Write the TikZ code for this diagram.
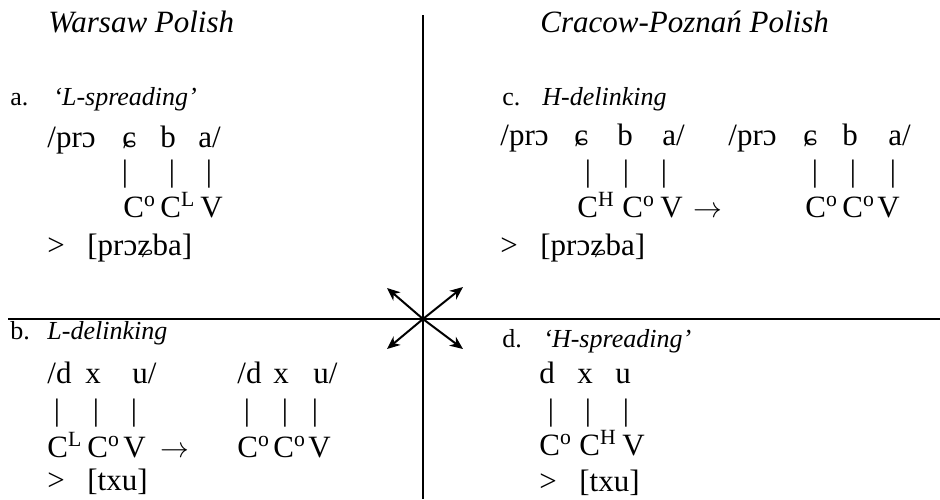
\documentclass[tikz,border=0pt]{standalone}
\usepackage{fontspec}
\setmainfont{Liberation Serif}
\usetikzlibrary{arrows.meta}
\begin{document}
\begin{tikzpicture}[
    x=0.5pt, y=-0.5pt,
    txt/.style={anchor=base west, inner sep=0pt, font=\fontsize{15.5}{18}\selectfont},
    ttl/.style={anchor=base west, inner sep=0pt, font=\fontsize{15.5}{18}\selectfont\itshape},
    num/.style={anchor=base west, inner sep=0pt, font=\fontsize{13}{15}\selectfont},
    lbl/.style={anchor=base west, inner sep=0pt, font=\fontsize{13}{15}\selectfont\itshape},
    bar/.style={anchor=base, inner sep=0pt, font=\fontsize{15.5}{18}\selectfont},
    rule/.style={line width=1pt},
    arrow/.style={->, >={Stealth[length=6.5pt, width=5.5pt, inset=2pt]}, line width=1pt}
]
    \useasboundingbox (0,0) rectangle (940,499);

    % frame
    \coordinate (top) at (423,15);
    \coordinate (bottom) at (423,499);
    \coordinate (left) at (8,319);
    \coordinate (right) at (940,319);
    \coordinate (mid) at (423,319);
    \draw[rule] (top) -- (bottom);
    \draw[rule] (left) -- (right);

    \coordinate (nw) at (387,288);
    \coordinate (ne) at (463,287);
    \coordinate (sw) at (387,349);
    \coordinate (se) at (463,349);
    \draw[arrow] (mid) -- (nw);
    \draw[arrow] (mid) -- (ne);
    \draw[arrow] (mid) -- (sw);
    \draw[arrow] (mid) -- (se);

    \node[ttl] (warsaw) at (48,32) {Warsaw Polish};
    \node[ttl] (cracow) at (540,32) {Cracow-Poznań Polish};

    % a.
    \node[num] (labA) at (10,105) {a.};
    \node[lbl] (nameA) at (53,105) {‘L-spreading’};
    \node[txt] (aSeg1) at (47,147) {/prɔ};
    \node[txt] (aSeg2) at (122,147) {ɕ};
    \node[txt] (aSeg3) at (160,147) {b};
    \node[txt] (aSeg4) at (198,147) {a/};
    \node[bar] (aBar1) at (125,181) {|};
    \node[bar] (aBar2) at (172,181) {|};
    \node[bar] (aBar3) at (209,181) {|};
    \node[txt] (aSlot1) at (123,217) {C\textsuperscript{o}};
    \node[txt] (aSlot2) at (160,217) {C\textsuperscript{L}};
    \node[txt] (aSlot3) at (200,217) {V};
    \node[txt] (aOut1) at (47,255) {>};
    \node[txt] (aOut2) at (87,255) {[prɔʑba]};

    % c.
    \node[num] (labC) at (502,105) {c.};
    \node[lbl] (nameC) at (542,105) {H-delinking};
    \node[txt] (cSeg1) at (500,145) {/prɔ};
    \node[txt] (cSeg2) at (574,145) {ɕ};
    \node[txt] (cSeg3) at (617,145) {b};
    \node[txt] (cSeg4) at (662,145) {a/};
    \node[txt] (cSeg5) at (728,145) {/prɔ};
    \node[txt] (cSeg6) at (803,145) {ɕ};
    \node[txt] (cSeg7) at (842,145) {b};
    \node[txt] (cSeg8) at (888,145) {a/};
    \node[bar] (cBar1) at (588,181) {|};
    \node[bar] (cBar2) at (626,181) {|};
    \node[bar] (cBar3) at (664,181) {|};
    \node[bar] (cBar4) at (815,181) {|};
    \node[bar] (cBar5) at (853,181) {|};
    \node[bar] (cBar6) at (893,181) {|};
    \node[txt] (cSlot1) at (577,217) {C\textsuperscript{H}};
    \node[txt] (cSlot2) at (622,217) {C\textsuperscript{o}};
    \node[txt] (cSlot3) at (660,217) {V};
    \node[txt] (cTo) at (693,217) {$\rightarrow$};
    \node[txt] (cSlot4) at (805,217) {C\textsuperscript{o}};
    \node[txt] (cSlot5) at (842,217) {C\textsuperscript{o}};
    \node[txt] (cSlot6) at (877,217) {V};
    \node[txt] (cOut1) at (500,255) {>};
    \node[txt] (cOut2) at (540,255) {[prɔʑba]};

    % b.
    \node[num] (labB) at (10,339) {b.};
    \node[lbl] (nameB) at (47,339) {L-delinking};
    \node[txt] (bSeg1) at (47,383) {/d};
    \node[txt] (bSeg2) at (85,383) {x};
    \node[txt] (bSeg3) at (132,383) {u/};
    \node[txt] (bSeg4) at (237,383) {/d};
    \node[txt] (bSeg5) at (273,383) {x};
    \node[txt] (bSeg6) at (313,383) {u/};
    \node[bar] (bBar1) at (57,420) {|};
    \node[bar] (bBar2) at (96,420) {|};
    \node[bar] (bBar3) at (134,420) {|};
    \node[bar] (bBar4) at (247,420) {|};
    \node[bar] (bBar5) at (285,420) {|};
    \node[bar] (bBar6) at (315,420) {|};
    \node[txt] (bSlot1) at (47,457) {C\textsuperscript{L}};
    \node[txt] (bSlot2) at (87,457) {C\textsuperscript{o}};
    \node[txt] (bSlot3) at (123,457) {V};
    \node[txt] (bTo) at (160,457) {$\rightarrow$};
    \node[txt] (bSlot4) at (237,457) {C\textsuperscript{o}};
    \node[txt] (bSlot5) at (273,457) {C\textsuperscript{o}};
    \node[txt] (bSlot6) at (308,457) {V};
    \node[txt] (bOut1) at (47,490) {>};
    \node[txt] (bOut2) at (87,490) {[txu]};

    % d.
    \node[num] (labD) at (502,347) {d.};
    \node[lbl] (nameD) at (543,347) {‘H-spreading’};
    \node[txt] (dSeg1) at (539,383) {d};
    \node[txt] (dSeg2) at (577,383) {x};
    \node[txt] (dSeg3) at (615,383) {u};
    \node[bar] (dBar1) at (551,420) {|};
    \node[bar] (dBar2) at (588,420) {|};
    \node[bar] (dBar3) at (626,420) {|};
    \node[txt] (dSlot1) at (539,455) {C\textsuperscript{o}};
    \node[txt] (dSlot2) at (579,455) {C\textsuperscript{H}};
    \node[txt] (dSlot3) at (622,455) {V};
    \node[txt] (dOut1) at (539,491) {>};
    \node[txt] (dOut2) at (579,491) {[txu]};
\end{tikzpicture}
\end{document}
